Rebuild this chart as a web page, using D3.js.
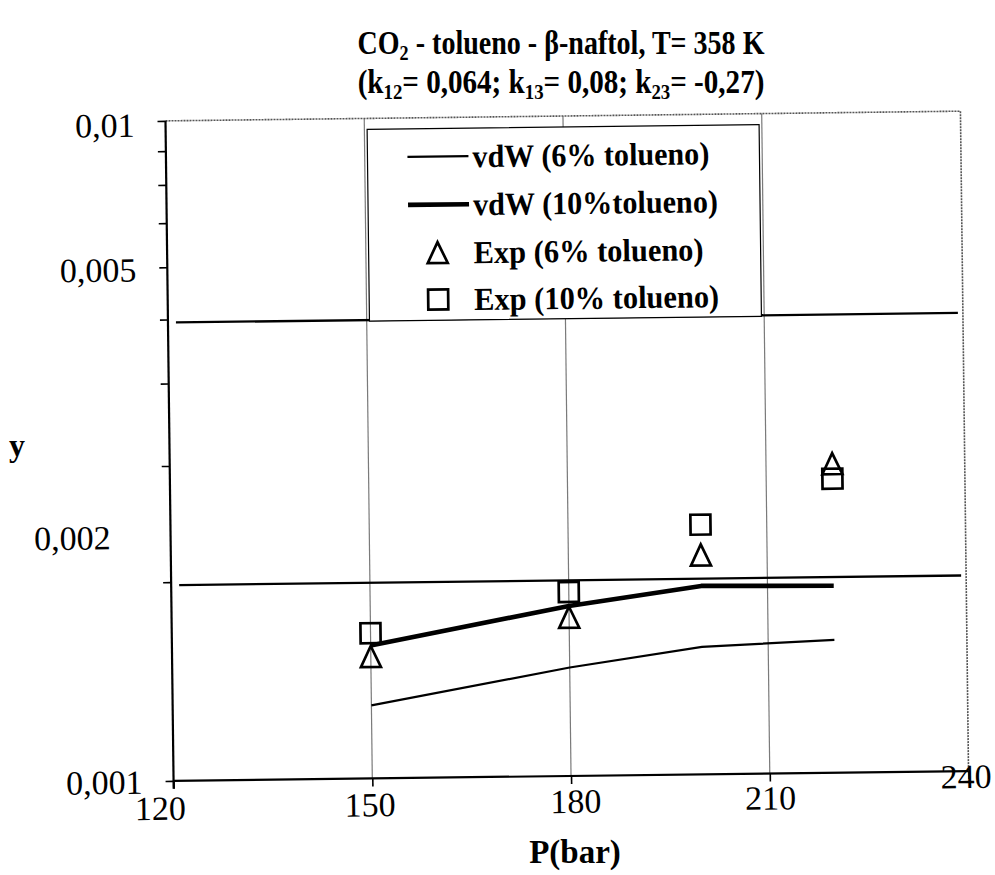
<!DOCTYPE html>
<html>
<head>
<meta charset="utf-8">
<script src="https://cdn.jsdelivr.net/npm/d3@7"></script>
<style>
  body { margin: 0; background: #fff; }
  svg { display: block; }
  text { font-family: "Liberation Serif", "Times New Roman", serif; fill: #000; }
</style>
</head>
<body>
<svg id="chart" width="995" height="875"></svg>
<script>
// Pressure (bar) of the computed curves and of the measurements
const pressure = [150, 180, 200, 220];
// van der Waals model, solubility y of beta-naphthol
const vdw6 = [0.00129, 0.00146, 0.00156, 0.00159];
const vdw10 = [0.00159, 0.00181, 0.00193, 0.00192];
// experimental points
const exp6 = [0.00153, 0.00174, 0.00215, 0.00294];
const exp10 = [0.00166, 0.00190, 0.00239, 0.00279];

const xTicks = [120, 150, 180, 210, 240];
const xGrid = [150, 180, 210];
const yTicks = [0.001, 0.002, 0.005, 0.01];
const yTickLabels = ["0,001", "0,002", "0,005", "0,01"];
const yGrid = [0.002, 0.005];
const yMinor = [0.001, 0.002, 0.003, 0.004, 0.005, 0.006, 0.007, 0.008, 0.009, 0.01];
const legendLabels = ["vdW (6% tolueno)", "vdW (10%tolueno)", "Exp (6% tolueno)", "Exp (10% tolueno)"];

const svg = d3.select("#chart");
const plot = { left: 169.5, right: 964.5, top: 116, bottom: 776 };

const x = d3.scaleLinear().domain([120, 240]).range([plot.left, plot.right]);
const y = d3.scaleLog().domain([0.001, 0.01]).range([plot.bottom, plot.top]);

// title, two lines, narrowed to a fixed width
const title = svg.append("g").attr("font-weight", "bold").attr("font-size", 34).attr("text-anchor", "middle");
function titleLine(parts, cy) {
  const t = title.append("text").attr("x", 0).attr("y", 0);
  parts.forEach(p => {
    if (p.sub) {
      t.append("tspan").attr("font-size", 22).attr("dy", 6).text(p.sub);
    } else {
      t.append("tspan").attr("dy", p.back ? -6 : 0).text(p.txt);
    }
  });
  const w = t.node().getComputedTextLength();
  t.attr("transform", `translate(561,${cy}) scale(${407 / w},1)`);
}
titleLine([{ txt: "CO" }, { sub: "2" }, { txt: " - tolueno - \u03B2-naftol, T= 358 K", back: true }], 54);
titleLine([{ txt: "(k" }, { sub: "12" }, { txt: "= 0,064; k", back: true }, { sub: "13" },
           { txt: "= 0,08; k", back: true }, { sub: "23" }, { txt: "= -0,27)", back: true }], 93);

// the whole plot sits slightly tilted
const g = svg.append("g").attr("transform", "rotate(-0.7,567,446)");

// vertical grid
g.append("g").selectAll("line").data(xGrid).join("line")
  .attr("x1", d => x(d)).attr("x2", d => x(d))
  .attr("y1", plot.top).attr("y2", plot.bottom)
  .attr("stroke", "#7a7a7a").attr("stroke-width", 1.2);

// horizontal grid
g.append("g").selectAll("line").data(yGrid).join("line")
  .attr("x1", plot.left + 8).attr("x2", plot.right - 5)
  .attr("y1", d => y(d) + 3).attr("y2", d => y(d) + 3)
  .attr("stroke", "#000").attr("stroke-width", 2.3);

// top and right frame
g.append("path")
  .attr("d", `M${plot.left},${plot.top}H${plot.right}V${plot.bottom}`)
  .attr("fill", "none").attr("stroke", "#555").attr("stroke-width", 1.6)
  .attr("stroke-dasharray", "2,1");

// axes
const yAxis = d3.axisLeft(y).tickValues(yMinor).tickSize(8).tickPadding(23)
  .tickFormat(d => { const i = yTicks.findIndex(v => Math.abs(v - d) < 1e-9); return i >= 0 ? yTickLabels[i] : ""; });
const yG = g.append("g").attr("transform", `translate(${plot.left},0)`).call(yAxis);
yG.select(".domain").attr("d", `M0,${plot.top}V${plot.bottom + 8}`).attr("stroke-width", 2.2);
yG.selectAll(".tick line").attr("stroke-width", 1.6);
yG.selectAll(".tick text").attr("font-size", 34).attr("font-family", "Liberation Serif");
// label nudges
const yNudge = { 0.01: [0, 4], 0.005: [0, -50], 0.002: [-29, -45], 0.001: [0, 1] };
yG.selectAll(".tick text").each(function(d) {
  const n = yNudge[d];
  if (n) d3.select(this).attr("dx", n[0]).attr("dy", n[1] + 11);
});

const xAxis = d3.axisBottom(x).tickValues(xTicks).tickSize(8).tickPadding(6)
  .tickFormat(d => String(d));
const xG = g.append("g").attr("transform", `translate(0,${plot.bottom})`).call(xAxis);
xG.select(".domain").attr("d", `M${plot.left},0H${plot.right}`).attr("stroke-width", 2.2);
xG.selectAll(".tick line").attr("stroke-width", 1.6);
xG.selectAll(".tick text").attr("font-size", 34).attr("font-family", "Liberation Serif");
const xNudge = { 120: [-14, 0], 150: [-3, -1], 180: [4, -2], 210: [0, -3], 240: [-3, -22] };
xG.selectAll(".tick text").each(function(d) {
  const n = xNudge[d];
  d3.select(this).attr("dx", n[0]).attr("dy", 25 + n[1]);
});

// axis titles
svg.append("text").attr("x", 575).attr("y", 863).attr("text-anchor", "middle")
  .attr("font-weight", "bold").attr("font-size", 33).text("P(bar)");
svg.append("text").attr("x", 17).attr("y", 456).attr("text-anchor", "middle")
  .attr("font-weight", "bold").attr("font-size", 32).text("y");

// model curves
const line = d3.line().x(d => x(d[0])).y(d => y(d[1]));
g.append("path").datum(d3.zip(pressure, vdw6)).attr("d", line)
  .attr("fill", "none").attr("stroke", "#000").attr("stroke-width", 2.2);
g.append("path").datum(d3.zip(pressure, vdw10)).attr("d", line)
  .attr("fill", "none").attr("stroke", "#000").attr("stroke-width", 4.6).attr("stroke-linejoin", "round");

// markers
const triPath = (cx, cy) => `M${cx},${cy - 10.5}L${cx + 10},${cy + 10.5}L${cx - 10},${cy + 10.5}Z`;
const sqPath = (cx, cy) => `M${cx - 10},${cy - 10}h20v20h-20Z`;

g.append("g").selectAll("path").data(d3.zip(pressure, exp6)).join("path")
  .attr("d", d => triPath(x(d[0]), y(d[1])))
  .attr("fill", "none").attr("stroke", "#000").attr("stroke-width", 2.7);
g.append("g").selectAll("path").data(d3.zip(pressure, exp10)).join("path")
  .attr("d", d => sqPath(x(d[0]), y(d[1])))
  .attr("fill", "none").attr("stroke", "#000").attr("stroke-width", 2.7);

// legend
const lg = g.append("g");
lg.append("rect").attr("x", 371).attr("y", 127).attr("width", 392).attr("height", y(0.005) + 4 - 127)
  .attr("fill", "#fff").attr("stroke", "#000").attr("stroke-width", 1.2);
const rowY = [155, 203, 251, 298];
legendLabels.forEach((lab, i) => {
  const cy = rowY[i];
  if (i === 0 || i === 1) {
    lg.append("line").attr("x1", 411).attr("x2", 472).attr("y1", cy).attr("y2", cy)
      .attr("stroke", "#000").attr("stroke-width", i === 0 ? 2.2 : 4.6);
  } else if (i === 2) {
    lg.append("path").attr("d", triPath(440, cy)).attr("fill", "none").attr("stroke", "#000").attr("stroke-width", 2.7);
  } else {
    lg.append("path").attr("d", sqPath(440, cy)).attr("fill", "none").attr("stroke", "#000").attr("stroke-width", 2.7);
  }
  const t = lg.append("text").attr("x", 0).attr("y", 0).attr("font-weight", "bold").attr("font-size", 32).text(lab);
  const w = t.node().getComputedTextLength();
  const target = [237, 245, 230, 245][i];
  t.attr("transform", `translate(476,${cy + 11}) scale(${target / w},1)`);
});
</script>
</body>
</html>
